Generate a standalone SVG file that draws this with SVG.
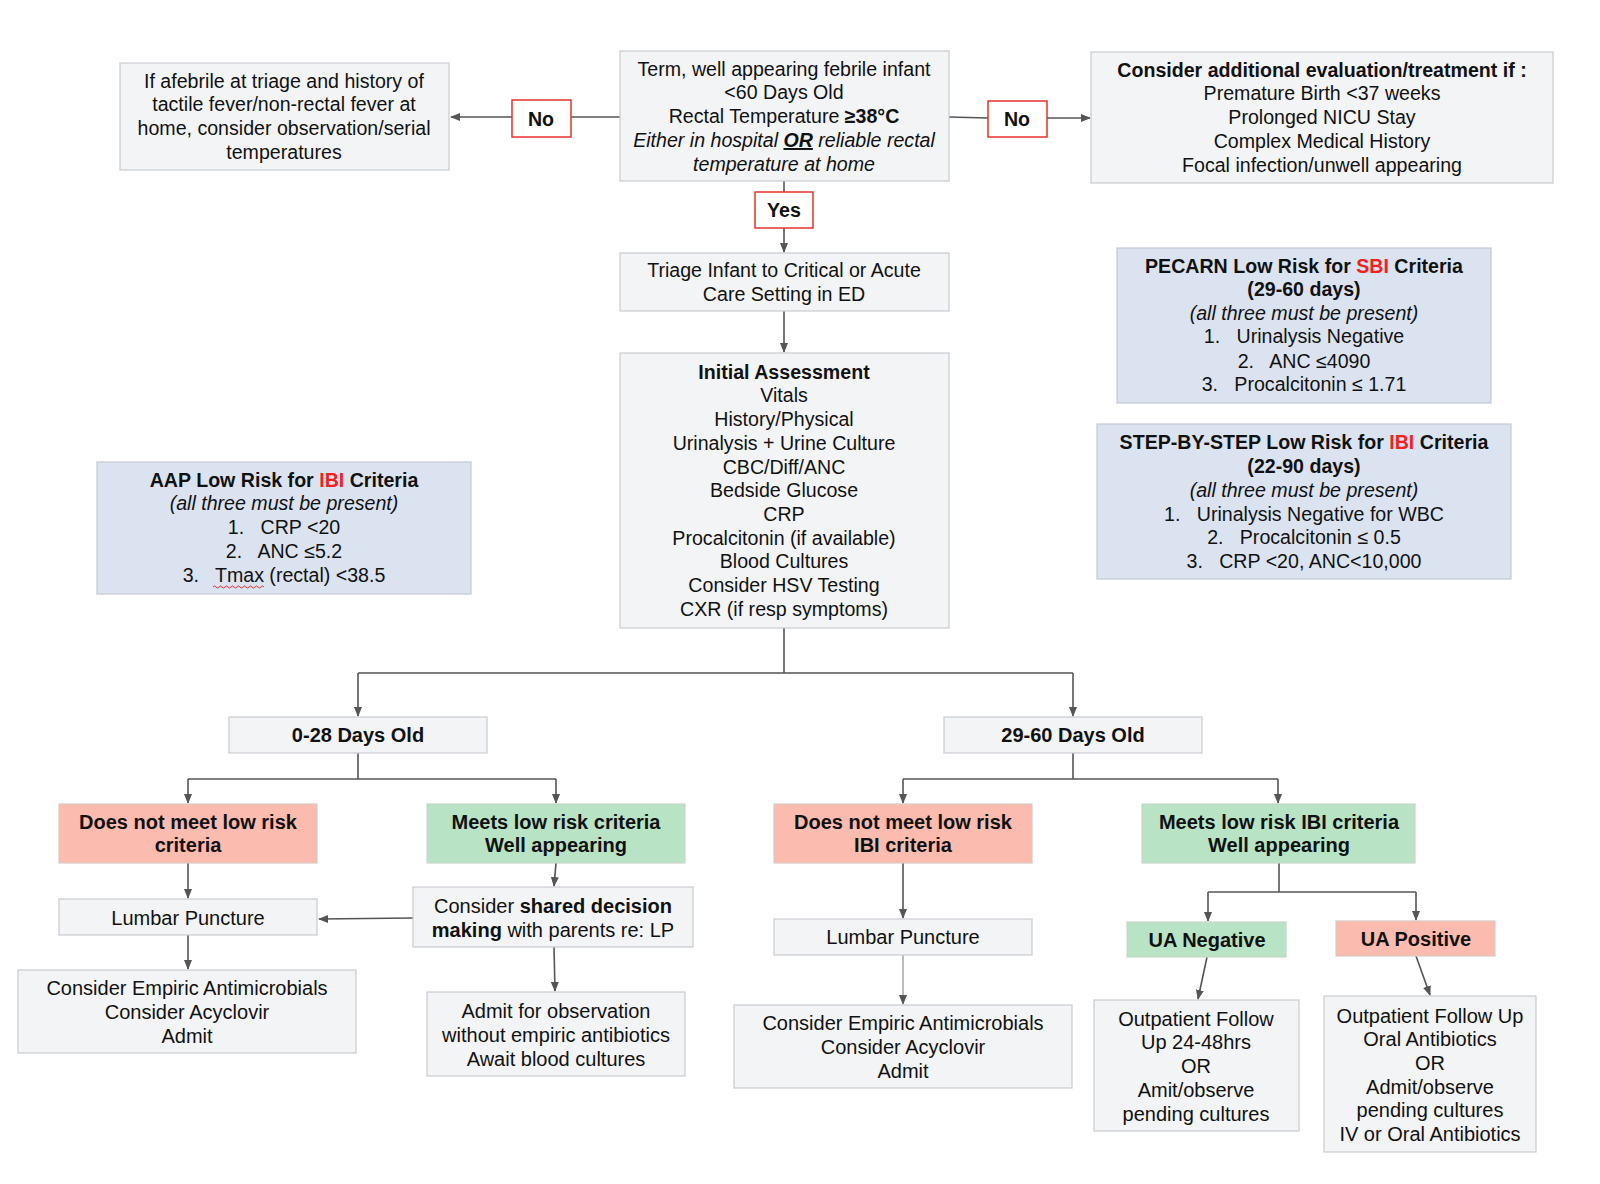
<svg xmlns="http://www.w3.org/2000/svg" width="1600" height="1184" viewBox="0 0 1600 1184">
<defs>
<marker id="ah" markerWidth="10" markerHeight="10" refX="9" refY="5" orient="auto" markerUnits="userSpaceOnUse">
<path d="M0,1 L10,5 L0,9 Z" fill="#555"/>
</marker>
<style>
.box{fill:#f3f4f6;stroke:#c9ccd1;stroke-width:1.2}
.blue{fill:#dbe3f0;stroke:#c3c9d3;stroke-width:1.2}
.red{fill:#fbbbae;stroke:#d9c8c4;stroke-width:1.2}
.green{fill:#b8e4c5;stroke:#c8d6cc;stroke-width:1.2}
.lbl{fill:#ffffff;stroke:#e8302c;stroke-width:1.5}
text{font-family:"Liberation Sans",Arial,sans-serif;font-size:19.6px;fill:#111;text-anchor:middle;white-space:pre}
.n{font-size:20px}
.b{font-weight:bold}
.r{fill:#ee2222}
.c{fill:none;stroke:#555;stroke-width:1.6}
</style>
</defs>
<g id="connectors">
<path class="c" d="M620,117 L571,117"/>
<path class="c" d="M512,117 L451,117" marker-end="url(#ah)"/>
<path class="c" d="M949,117 L988,118"/>
<path class="c" d="M1047,118 L1090,118" marker-end="url(#ah)"/>
<path class="c" d="M784,181 L784,192"/>
<path class="c" d="M784,228 L784,252" marker-end="url(#ah)"/>
<path class="c" d="M784,311 L784,352" marker-end="url(#ah)"/>
<path class="c" d="M784,628 L784,673 M358,673 L1073,673"/>
<path class="c" d="M358,673 L358,716" marker-end="url(#ah)"/>
<path class="c" d="M1073,673 L1073,716" marker-end="url(#ah)"/>
<path class="c" d="M358,753 L358,779 M188,779 L556,779"/>
<path class="c" d="M188,779 L188,803" marker-end="url(#ah)"/>
<path class="c" d="M556,779 L556,803" marker-end="url(#ah)"/>
<path class="c" d="M1073,753 L1073,779 M903,779 L1278,779"/>
<path class="c" d="M903,779 L903,803" marker-end="url(#ah)"/>
<path class="c" d="M1278,779 L1278,803" marker-end="url(#ah)"/>
<path class="c" d="M188,863 L188,898" marker-end="url(#ah)"/>
<path class="c" d="M556,863 L554,886" marker-end="url(#ah)"/>
<path class="c" d="M413,918 L319,919" marker-end="url(#ah)"/>
<path class="c" d="M188,935 L188,969" marker-end="url(#ah)"/>
<path class="c" d="M554,947 L555,991" marker-end="url(#ah)"/>
<path class="c" d="M903,863 L903,918" marker-end="url(#ah)"/>
<path class="c" d="M903,955 L903,1004" marker-end="url(#ah)" style="stroke:#aaa"/>
<path class="c" d="M1279,863 L1279,892 M1208,892 L1416,892"/>
<path class="c" d="M1208,892 L1208,921" marker-end="url(#ah)"/>
<path class="c" d="M1416,892 L1416,920" marker-end="url(#ah)"/>
<path class="c" d="M1207,957 L1198,999" marker-end="url(#ah)"/>
<path class="c" d="M1416,956 L1430,995" marker-end="url(#ah)"/>
</g>
<g id="afebrile">
<rect class="box" x="120" y="63" width="329" height="107"/>
<text x="284" y="88">If afebrile at triage and history of</text>
<text x="284" y="111">tactile fever/non-rectal fever at</text>
<text x="284" y="135">home, consider observation/serial</text>
<text x="284" y="159">temperatures</text>
</g>
<g id="no-left">
<rect class="lbl" x="512" y="100" width="59" height="37"/>
<text class="b" x="541" y="126">No</text>
</g>
<g id="start">
<rect class="box" x="620" y="51" width="329" height="130"/>
<text x="784" y="76">Term, well appearing febrile infant</text>
<text x="784" y="99">&lt;60 Days Old</text>
<text x="784" y="123">Rectal Temperature <tspan class="b">≥38°C</tspan></text>
<text x="784" y="147" font-style="italic">Either in hospital <tspan class="b" text-decoration="underline">OR</tspan> reliable rectal</text>
<text x="784" y="171" font-style="italic">temperature at home</text>
</g>
<g id="no-right">
<rect class="lbl" x="988" y="101" width="59" height="36"/>
<text class="b" x="1017" y="126">No</text>
</g>
<g id="additional">
<rect class="box" x="1091" y="52" width="462" height="131"/>
<text class="b" x="1322" y="77">Consider additional evaluation/treatment if :</text>
<text x="1322" y="100">Premature Birth &lt;37 weeks</text>
<text x="1322" y="124">Prolonged NICU Stay</text>
<text x="1322" y="148">Complex Medical History</text>
<text x="1322" y="172">Focal infection/unwell appearing</text>
</g>
<g id="yes">
<rect class="lbl" x="755" y="192" width="58" height="36"/>
<text class="b" x="784" y="217">Yes</text>
</g>
<g id="triage">
<rect class="box" x="620" y="253" width="329" height="58"/>
<text x="784" y="277">Triage Infant to Critical or Acute</text>
<text x="784" y="301">Care Setting in ED</text>
</g>
<g id="initial">
<rect class="box" x="620" y="353" width="329" height="275"/>
<text class="b" x="784" y="379">Initial Assessment</text>
<text x="784" y="402">Vitals</text>
<text x="784" y="426">History/Physical</text>
<text x="784" y="450">Urinalysis + Urine Culture</text>
<text x="784" y="474">CBC/Diff/ANC</text>
<text x="784" y="497">Bedside Glucose</text>
<text x="784" y="521">CRP</text>
<text x="784" y="545">Procalcitonin (if available)</text>
<text x="784" y="568">Blood Cultures</text>
<text x="784" y="592">Consider HSV Testing</text>
<text x="784" y="616">CXR (if resp symptoms)</text>
</g>
<g id="pecarn">
<rect class="blue" x="1117" y="248" width="374" height="155"/>
<text class="b" x="1304" y="273">PECARN Low Risk for <tspan class="r">SBI</tspan> Criteria</text>
<text class="b" x="1304" y="296">(29-60 days)</text>
<text x="1304" y="320" font-style="italic">(all three must be present)</text>
<text x="1304" y="343">1.   Urinalysis Negative</text>
<text x="1304" y="368">2.   ANC ≤4090</text>
<text x="1304" y="391">3.   Procalcitonin ≤ 1.71</text>
</g>
<g id="stepbystep">
<rect class="blue" x="1097" y="424" width="414" height="155"/>
<text class="b" x="1304" y="449">STEP-BY-STEP Low Risk for <tspan class="r">IBI</tspan> Criteria</text>
<text class="b" x="1304" y="473">(22-90 days)</text>
<text x="1304" y="497" font-style="italic">(all three must be present)</text>
<text x="1304" y="521">1.   Urinalysis Negative for WBC</text>
<text x="1304" y="544">2.   Procalcitonin ≤ 0.5</text>
<text x="1304" y="568">3.   CRP &lt;20, ANC&lt;10,000</text>
</g>
<g id="aap">
<rect class="blue" x="97" y="462" width="374" height="132"/>
<text class="b" x="284" y="487">AAP Low Risk for <tspan class="r">IBI</tspan> Criteria</text>
<text x="284" y="510" font-style="italic">(all three must be present)</text>
<text x="284" y="534">1.   CRP &lt;20</text>
<text x="284" y="558">2.   ANC ≤5.2</text>
<text x="284" y="582">3.   Tmax (rectal) &lt;38.5</text>
<path d="M213,587 q1.5,-2 3,0 t3,0 t3,0 t3,0 t3,0 t3,0 t3,0 t3,0 t3,0 t3,0 t3,0 t3,0 t3,0 t3,0 t3,0 t3,0 t3,0" fill="none" stroke="#e03030" stroke-width="1"/>
</g>
<g id="age-0-28">
<rect class="box" x="229" y="717" width="258" height="36"/>
<text class="n b" x="358" y="742">0-28 Days Old</text>
</g>
<g id="age-29-60">
<rect class="box" x="944" y="717" width="258" height="36"/>
<text class="n b" x="1073" y="742">29-60 Days Old</text>
</g>
<g id="notmeet-0-28">
<rect class="red" x="59" y="804" width="258" height="59"/>
<text class="n b" x="188" y="829">Does not meet low risk</text>
<text class="n b" x="188" y="852">criteria</text>
</g>
<g id="meets-0-28">
<rect class="green" x="427" y="804" width="258" height="59"/>
<text class="n b" x="556" y="829">Meets low risk criteria</text>
<text class="n b" x="556" y="852">Well appearing</text>
</g>
<g id="notmeet-29-60">
<rect class="red" x="774" y="804" width="258" height="59"/>
<text class="n b" x="903" y="829">Does not meet low risk</text>
<text class="n b" x="903" y="852">IBI criteria</text>
</g>
<g id="meets-29-60">
<rect class="green" x="1142" y="804" width="273" height="59"/>
<text class="n b" x="1279" y="829">Meets low risk IBI criteria</text>
<text class="n b" x="1279" y="852">Well appearing</text>
</g>
<g id="lp-left">
<rect class="box" x="59" y="899" width="258" height="36"/>
<text class="n" x="188" y="925">Lumbar Puncture</text>
</g>
<g id="shared">
<rect class="box" x="413" y="887" width="280" height="60"/>
<text class="n" x="553" y="913">Consider <tspan class="b">shared decision</tspan></text>
<text class="n" x="553" y="937"><tspan class="b">making</tspan> with parents re: LP</text>
</g>
<g id="empiric-left">
<rect class="box" x="18" y="970" width="338" height="83"/>
<text class="n" x="187" y="995">Consider Empiric Antimicrobials</text>
<text class="n" x="187" y="1019">Consider Acyclovir</text>
<text class="n" x="187" y="1043">Admit</text>
</g>
<g id="admit-obs">
<rect class="box" x="427" y="992" width="258" height="84"/>
<text class="n" x="556" y="1018">Admit for observation</text>
<text class="n" x="556" y="1042">without empiric antibiotics</text>
<text class="n" x="556" y="1066">Await blood cultures</text>
</g>
<g id="lp-mid">
<rect class="box" x="774" y="919" width="258" height="36"/>
<text class="n" x="903" y="944">Lumbar Puncture</text>
</g>
<g id="empiric-mid">
<rect class="box" x="734" y="1005" width="338" height="83"/>
<text class="n" x="903" y="1030">Consider Empiric Antimicrobials</text>
<text class="n" x="903" y="1054">Consider Acyclovir</text>
<text class="n" x="903" y="1078">Admit</text>
</g>
<g id="ua-neg">
<rect class="green" x="1127" y="922" width="159" height="35"/>
<text class="n b" x="1207" y="947">UA Negative</text>
</g>
<g id="ua-pos">
<rect class="red" x="1336" y="921" width="159" height="35"/>
<text class="n b" x="1416" y="946">UA Positive</text>
</g>
<g id="outpatient-neg">
<rect class="box" x="1094" y="1000" width="205" height="131"/>
<text class="n" x="1196" y="1026">Outpatient Follow</text>
<text class="n" x="1196" y="1049">Up 24-48hrs</text>
<text class="n" x="1196" y="1073">OR</text>
<text class="n" x="1196" y="1097">Amit/observe</text>
<text class="n" x="1196" y="1121">pending cultures</text>
</g>
<g id="outpatient-pos">
<rect class="box" x="1324" y="996" width="212" height="156"/>
<text class="n" x="1430" y="1023">Outpatient Follow Up</text>
<text class="n" x="1430" y="1046">Oral Antibiotics</text>
<text class="n" x="1430" y="1070">OR</text>
<text class="n" x="1430" y="1094">Admit/observe</text>
<text class="n" x="1430" y="1117">pending cultures</text>
<text class="n" x="1430" y="1141">IV or Oral Antibiotics</text>
</g>
</svg>
